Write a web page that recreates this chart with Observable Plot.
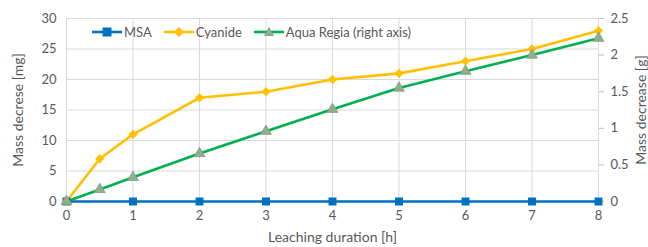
<!DOCTYPE html>
<html>
<head>
<meta charset="utf-8">
<script src="https://cdn.jsdelivr.net/npm/d3@7"></script>
<script src="https://cdn.jsdelivr.net/npm/@observablehq/plot@0.6"></script>
<style>
  html, body { margin: 0; padding: 0; background: #fff; }
  #wrap { position: relative; width: 648px; height: 247px; font-family: Lato, "Open Sans", sans-serif; }
  #legend { position: absolute; top: 24px; left: 92px; display: flex; align-items: center; font-size: 13px; color: #595959; }
  #legend .item { display: flex; align-items: center; margin-right: 12px; }
  #legend svg { margin-right: 2px; }
</style>
</head>
<body>
<div id="wrap"><div id="legend"></div></div>
<script>
const hours      = [0, 0.5, 1, 2, 3, 4, 5, 6, 7, 8];
const msaMg      = [0, null, 0, 0, 0, 0, 0, 0, 0, 0];
const cyanideMg  = [0, 7, 11, 17, 18, 20, 21, 23, 25, 28];
const aquaRegiaG = [0, 0.165, 0.33, 0.655, 0.96, 1.26, 1.55, 1.78, 2.0, 2.23];
const xTicks     = [0, 1, 2, 3, 4, 5, 6, 7, 8];
const leftTicks  = [0, 5, 10, 15, 20, 25, 30];
const rightTicks = [0, 0.5, 1, 1.5, 2, 2.5];
const seriesNames = ["MSA", "Cyanide", "Aqua Regia (right axis)"];
const colors = { "MSA": "#0070C0", "Cyanide": "#FFC000", "Aqua Regia (right axis)": "#00B050" };

const leftMax = 30, rightMax = 2.5;
const k = leftMax / rightMax; // mg-axis units per g-axis unit

const msa = hours.map((h, i) => ({h, v: msaMg[i]})).filter(d => d.v !== null);
const cyan = hours.map((h, i) => ({h, v: cyanideMg[i]}));
const aqua = hours.map((h, i) => ({h, v: aquaRegiaG[i] * k}));

const font = "Lato, 'Open Sans', sans-serif";
const chart = Plot.plot({
  width: 648,
  height: 247,
  marginLeft: 66,
  marginRight: 50,
  marginTop: 18,
  marginBottom: 46,
  style: { fontFamily: font, fontSize: "13px", color: "#595959", background: "#fff" },
  x: { domain: [0, 8] },
  y: { domain: [0, leftMax] },
  marks: [
    Plot.gridX(xTicks, { stroke: "#d9d9d9", strokeOpacity: 1 }),
    Plot.gridY(leftTicks, { stroke: "#d9d9d9", strokeOpacity: 1 }),
    Plot.axisX({ ticks: xTicks, tickSize: 0, tickPadding: 9, label: null, fontSize: 13 }),
    Plot.axisY({ anchor: "left", ticks: leftTicks, tickSize: 0, tickPadding: 10, label: null, fontSize: 13 }),
    Plot.axisY({ anchor: "right", ticks: rightTicks.map(g => g * k), tickFormat: d => String(+(d / k).toFixed(2)), tickSize: 5, tickPadding: 7, label: null, fontSize: 13, stroke: "#bfbfbf" }),
    Plot.line(aqua, { x: "h", y: "v", stroke: colors["Aqua Regia (right axis)"], strokeWidth: 2.6 }),
    Plot.line(cyan, { x: "h", y: "v", stroke: colors["Cyanide"], strokeWidth: 2.6 }),
    Plot.line(msa, { x: "h", y: "v", stroke: colors["MSA"], strokeWidth: 2.6 }),
    Plot.dot(msa, { x: "h", y: "v", symbol: "square", r: 4.5, fill: colors["MSA"], stroke: "none" }),
    Plot.dot(cyan, { x: "h", y: "v", symbol: "diamond2", r: 4.2, fill: colors["Cyanide"], stroke: "none" }),
    Plot.dot(aqua, { x: "h", y: "v", symbol: "triangle", r: 4, fill: "#8fb08f", stroke: "#7f9a7f", strokeWidth: 0.8 }),
    Plot.text(["Leaching duration [h]"], { frameAnchor: "bottom", dy: 40, fontSize: 14, fill: "#595959" }),
    Plot.text(["Mass decrese [mg]"], { frameAnchor: "left", textAnchor: "middle", dx: -48, rotate: -90, fontSize: 14, fill: "#595959" }),
    Plot.text(["Mass decrease [g]"], { frameAnchor: "right", textAnchor: "middle", dx: 43, rotate: -90, fontSize: 14, fill: "#595959" })
  ]
});
document.getElementById("wrap").prepend(chart);
chart.style.position = "absolute"; chart.style.left = "0"; chart.style.top = "0";

const legend = document.getElementById("legend");
const markerSvg = {
  "MSA": `<rect x="10.5" y="3.5" width="9" height="9" fill="${colors.MSA}"/>`,
  "Cyanide": `<path d="M15 3 L20 8 L15 13 L10 8 Z" fill="${colors.Cyanide}"/>`,
  "Aqua Regia (right axis)": `<path d="M15 3.5 L19.5 11.5 L10.5 11.5 Z" fill="#8fb08f" stroke="#7f9a7f" stroke-width="0.8"/>`
};
seriesNames.forEach(name => {
  const it = document.createElement("div");
  it.className = "item";
  it.innerHTML = `<svg width="30" height="16"><line x1="0" x2="30" y1="8" y2="8" stroke="${colors[name]}" stroke-width="2.6"/>${markerSvg[name]}</svg><span>${name}</span>`;
  legend.appendChild(it);
});
</script>
</body>
</html>
